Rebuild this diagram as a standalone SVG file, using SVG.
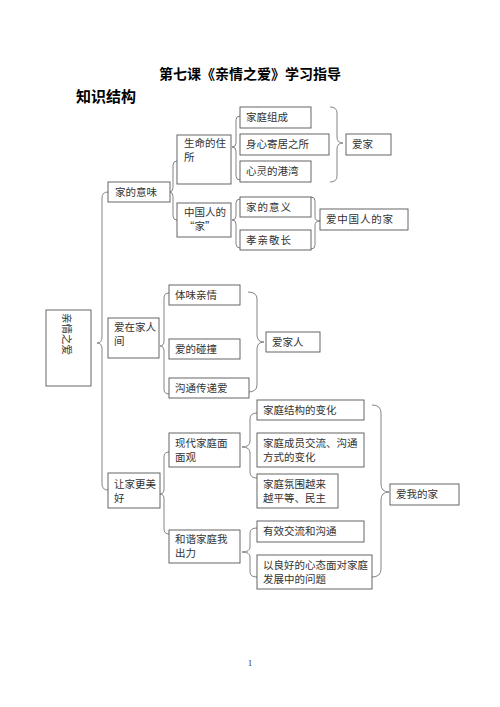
<svg xmlns="http://www.w3.org/2000/svg" width="500" height="707" viewBox="0 0 500 707">
<style>
.bx{fill:#fff;stroke:#555;stroke-width:0.9}
.t{font-family:"Noto Sans CJK SC","Noto Sans",sans-serif;font-size:10.5px;fill:#333}
.br{fill:none;stroke:#777;stroke-width:0.9}
.h{font-family:"Noto Sans CJK SC","Noto Sans",sans-serif;font-weight:bold;fill:#000}
</style>
<rect width="500" height="707" fill="#fff"/>
<text class="h" x="250" y="79" font-size="14" text-anchor="middle">第七课《亲情之爱》学习指导</text>
<text class="h" x="76" y="102" font-size="15">知识结构</text>
<g id="connectors">
<path class="br" d="M108 192 Q102 192 102 198 L102 337 Q102 343 97 343 Q102 343 102 349 L102 484 Q102 490 108 490"/>
<path class="br" d="M177 161 Q173 161 173 165 L173 188 Q173 192 169 192 Q173 192 173 196 L173 216 Q173 220 177 220"/>
<path class="br" d="M240 116 Q236 116 236 120 L236 143 Q236 147 232 147 Q236 147 236 151 L236 176 Q236 180 240 180"/>
<path class="br" d="M240 199 Q236 199 236 203 L236 216 Q236 220 232 220 Q236 220 236 224 L236 244 Q236 248 240 248"/>
<path class="br" d="M330 107 Q337 107 337 113 L337 137 Q337 143 343 143 Q337 143 337 149 L337 176 Q337 182 330 182"/>
<path class="br" d="M311 197 Q315 197 315 201 L315 217 Q315 221 320 221 Q315 221 315 225 L315 245 Q315 249 311 249"/>
<path class="br" d="M169 293 Q164 293 164 298 L164 341 Q164 346 160 346 Q164 346 164 351 L164 389 Q164 394 169 394"/>
<path class="br" d="M248 292 Q257 292 257 299 L257 335 Q257 342 264 342 Q257 342 257 349 L257 385 Q257 392 248 392"/>
<path class="br" d="M169 452 Q164 452 164 457 L164 489 Q164 494 160 494 Q164 494 164 499 L164 529 Q164 534 169 534"/>
<path class="br" d="M257 413 Q250 413 250 419 L250 441 Q250 447 242 447 Q250 447 250 453 L250 472 Q250 478 257 478"/>
<path class="br" d="M257 528 Q250 528 250 533 L250 547 Q250 552 242 552 Q250 552 250 557 L250 572 Q250 577 257 577"/>
<path class="br" d="M372 405 Q381 405 381 413 L381 484 Q381 492 389 492 Q381 492 381 500 L381 569 Q381 577 372 577"/>
</g>
<g id="root"><rect class="bx" x="46" y="310" width="45" height="76"/><text class="t" font-size="12" transform="translate(63,313) rotate(90)">亲情之爱</text></g>
<g id="n-jiadeyiwei"><rect class="bx" x="108" y="182" width="62" height="20"/><text class="t" x="115" y="196">家的意味</text></g>
<g id="n-shengming"><rect class="bx" x="177" y="135" width="54" height="49"/><text class="t" x="184" y="147">生命的住</text><text class="t" x="184" y="161">所</text></g>
<g id="n-zhongguoren"><rect class="bx" x="177" y="203" width="54" height="34"/><text class="t" x="184" y="216">中国人的</text><text class="t" x="184" y="230">“家”</text></g>
<g id="n-zucheng"><rect class="bx" x="240" y="107" width="71" height="21"/><text class="t" x="246" y="121">家庭组成</text></g>
<g id="n-jisuo"><rect class="bx" x="240" y="134" width="89" height="21"/><text class="t" x="246" y="148">身心寄居之所</text></g>
<g id="n-gangwan"><rect class="bx" x="240" y="161" width="71" height="21"/><text class="t" x="246" y="175" font-size="9">心灵的港湾</text></g>
<g id="n-aijia"><rect class="bx" x="346" y="134" width="45" height="21"/><text class="t" x="352" y="148">爱家</text></g>
<g id="n-yiyi"><rect class="bx" x="240" y="197" width="71" height="20"/><text class="t" x="246" y="210.5" letter-spacing="1">家的意义</text></g>
<g id="n-xiaoqin"><rect class="bx" x="240" y="230" width="71" height="20"/><text class="t" x="246" y="244" letter-spacing="1">孝亲敬长</text></g>
<g id="n-aizhongguo"><rect class="bx" x="320" y="209" width="88" height="21"/><text class="t" x="326" y="223" letter-spacing="0.8">爱中国人的家</text></g>
<g id="n-aizaijiaren"><rect class="bx" x="108" y="318" width="51" height="40"/><text class="t" x="114" y="330.5">爱在家人</text><text class="t" x="114" y="344.5">间</text></g>
<g id="n-tiwei"><rect class="bx" x="169" y="285" width="71" height="20"/><text class="t" x="175" y="298.5">体味亲情</text></g>
<g id="n-pengzhuang"><rect class="bx" x="169" y="339" width="71" height="20"/><text class="t" x="175" y="352.5">爱的碰撞</text></g>
<g id="n-goutong"><rect class="bx" x="169" y="378" width="80" height="20"/><text class="t" x="175" y="391.5">沟通传递爱</text></g>
<g id="n-aijiaren"><rect class="bx" x="266" y="332" width="54" height="20"/><text class="t" x="272" y="345.5">爱家人</text></g>
<g id="n-rangjia"><rect class="bx" x="108" y="473" width="52" height="35"/><text class="t" x="114" y="487.5">让家更美</text><text class="t" x="114" y="501.5">好</text></g>
<g id="n-xiandai"><rect class="bx" x="169" y="433" width="71" height="34"/><text class="t" x="175" y="447">现代家庭面</text><text class="t" x="175" y="461">面观</text></g>
<g id="n-hexie"><rect class="bx" x="169" y="530" width="71" height="33"/><text class="t" x="175" y="542.5">和谐家庭我</text><text class="t" x="175" y="556.5">出力</text></g>
<g id="n-jiegou"><rect class="bx" x="257" y="400" width="107" height="20"/><text class="t" x="263" y="413.5">家庭结构的变化</text></g>
<g id="n-chengyuan"><rect class="bx" x="257" y="433" width="107" height="34"/><text class="t" x="263" y="447">家庭成员交流、沟通</text><text class="t" x="263" y="461">方式的变化</text></g>
<g id="n-fenwei"><rect class="bx" x="257" y="474" width="81" height="34"/><text class="t" x="263" y="487.5">家庭氛围越来</text><text class="t" x="263" y="501.5">越平等、民主</text></g>
<g id="n-youxiao"><rect class="bx" x="257" y="521" width="107" height="21"/><text class="t" x="263" y="535">有效交流和沟通</text></g>
<g id="n-lianghao"><rect class="bx" x="257" y="555" width="115" height="34"/><text class="t" x="263" y="568.5">以良好的心态面对家庭</text><text class="t" x="263" y="582.5">发展中的问题</text></g>
<g id="n-aiwodejia"><rect class="bx" x="390" y="484" width="69" height="21"/><text class="t" x="396" y="498">爱我的家</text></g>
<text x="250" y="666" font-family="Liberation Serif, serif" font-size="9" text-anchor="middle" fill="#333">1</text>
</svg>
